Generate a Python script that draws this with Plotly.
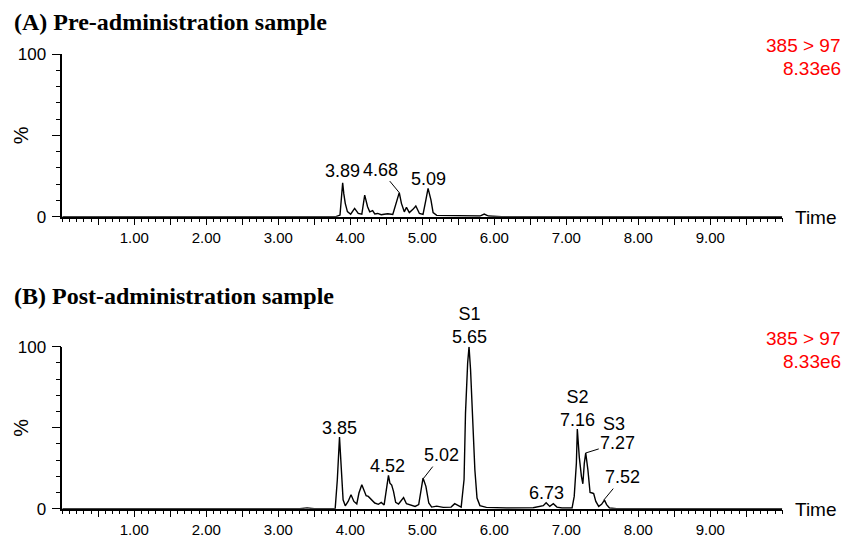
import plotly.graph_objects as go

# ---------------- data ----------------
# Panel A: pre-administration chromatogram (time, min ; relative intensity, %)
time_a = [0.00, 3.80, 3.857, 3.875, 3.894, 3.91, 3.93, 3.96, 4.005, 4.06, 4.11, 4.16, 4.20, 4.24,
          4.27, 4.31, 4.34, 4.38, 4.43, 4.47, 4.52, 4.59, 4.64, 4.68, 4.71, 4.75, 4.78, 4.82,
          4.87, 4.91, 4.96, 5.01, 5.05, 5.08, 5.12, 5.15, 5.20, 5.50, 5.80, 5.86, 5.92, 6.10, 10.0]
int_a = [0.0, 0.0, 1.0, 12.0, 20.9, 14.0, 8.2, 3.1, 1.5, 5.1, 2.0, 1.5, 13.3, 6.1,
         3.0, 3.7, 1.7, 2.0, 1.2, 1.5, 1.8, 1.4, 8.2, 14.8, 8.2, 3.0, 5.7, 2.5,
         4.5, 6.6, 2.0, 1.4, 10.3, 17.4, 10.3, 2.5, 0.8, 0.5, 0.4, 1.6, 0.4, 0.0, 0.0]

# Panel B: post-administration chromatogram
time_b = [0.00, 3.30, 3.40, 3.50, 3.79, 3.82, 3.85, 3.88, 3.90, 3.93, 3.97, 4.01, 4.05, 4.09,
          4.12, 4.16, 4.19, 4.22, 4.25, 4.30, 4.34, 4.39, 4.43, 4.47, 4.49, 4.53, 4.55, 4.575,
          4.60, 4.63, 4.67, 4.74, 4.78, 4.84, 4.90, 4.95, 4.98, 5.01, 5.05, 5.09, 5.13, 5.20,
          5.29, 5.40, 5.45, 5.50, 5.54, 5.58, 5.60, 5.63, 5.649, 5.67, 5.70, 5.73, 5.76, 5.80,
          5.89, 6.17, 6.54, 6.68, 6.72, 6.77, 6.82, 6.87, 6.94, 7.08, 7.11, 7.14, 7.153, 7.18,
          7.21, 7.23, 7.25, 7.27, 7.30, 7.33, 7.36, 7.38, 7.41, 7.45, 7.49, 7.53, 7.56, 7.60,
          7.70, 10.0]
int_b = [0.0, 0.0, 0.5, 0.0, 0.0, 18.0, 44.2, 22.0, 5.5, 1.8, 4.5, 8.6, 4.5, 3.0,
         9.7, 14.8, 11.7, 8.0, 7.6, 5.5, 3.5, 2.7, 3.9, 2.3, 7.6, 20.6, 15.8, 14.6,
         10.7, 3.9, 2.9, 6.8, 3.1, 2.0, 1.4, 2.5, 9.7, 18.9, 13.8, 3.5, 1.0, 1.6,
         0.8, 1.0, 3.1, 1.8, 1.0, 18.0, 59.0, 90.0, 100.0, 86.0, 57.0, 24.0, 6.6, 1.9,
         0.8, 0.4, 0.6, 1.9, 3.7, 1.4, 3.1, 1.0, 0.4, 0.4, 7.6, 28.0, 49.2, 32.0,
         20.0, 15.4, 28.0, 34.4, 24.0, 10.0, 9.7, 9.3, 4.5, 1.4, 2.7, 5.3, 2.5, 0.4,
         0.0, 0.0]

# x-axis tick labels (labelled every minute)
x_tick_labels = ["1.00", "2.00", "3.00", "4.00", "5.00", "6.00", "7.00", "8.00", "9.00"]
y_tick_labels = ["0", "", "100"]

# peak labels: (time, apex intensity, text)
labels_a = [(3.89, 20.9, "3.89"), (4.68, 14.8, "4.68"), (5.09, 17.4, "5.09")]
labels_b = [(3.85, 44.2, "3.85"), (4.52, 20.6, "4.52"), (5.02, 18.9, "5.02"),
            (5.65, 100.0, "S1<br>5.65"), (6.73, 3.7, "6.73"), (7.16, 49.2, "S2<br>7.16"),
            (7.27, 34.4, "7.27"), (7.52, 5.3, "7.52")]

titles = ["(A) Pre-administration sample", "(B) Post-administration sample"]
transition = "385 > 97"
max_intensity = "8.33e6"

# ---------------- layout geometry ----------------
W, H = 845, 538
x_left, x_right = 62.3, 782.3
panels = [  # (y pixel of 0%, y pixel of 100%)
    (216.7, 54.0),
    (508.7, 346.7),
]

def py(p):
    return 1 - p / H

fig = go.Figure()
fig.add_trace(go.Scatter(x=time_a, y=int_a, mode="lines", line=dict(color="black", width=1.4),
                         xaxis="x", yaxis="y", showlegend=False, hoverinfo="skip"))
fig.add_trace(go.Scatter(x=time_b, y=int_b, mode="lines", line=dict(color="black", width=1.4),
                         xaxis="x2", yaxis="y2", showlegend=False, hoverinfo="skip"))

major_x = [i * 0.5 for i in range(1, 20)]
major_x_text = [x_tick_labels[int(v) - 1] if float(v).is_integer() else "" for v in major_x]

font_sans = "Liberation Sans, Arial, sans-serif"

def xaxis_cfg(anchor):
    return dict(domain=[x_left / W, x_right / W], range=[0, 10], anchor=anchor, automargin=False,
                showline=True, linecolor="black", linewidth=1.5, showgrid=False, zeroline=False,
                ticks="outside", ticklen=7, tickwidth=1.3, tickcolor="black",
                tickmode="array", tickvals=major_x, ticktext=major_x_text,
                tickfont=dict(family=font_sans, size=15, color="black"),
                ticklabelstandoff=0,
                minor=dict(dtick=0.1, tick0=0, ticks="outside", ticklen=4, tickwidth=1.1,
                           tickcolor="black", showgrid=False),
                fixedrange=True)

def yaxis_cfg(anchor, p0, p100):
    return dict(domain=[py(p0), py(p100)], range=[0, 100], anchor=anchor, automargin=False,
                showline=True, linecolor="black", linewidth=1.5, showgrid=False, zeroline=False,
                ticks="outside", ticklen=9, tickwidth=1.3, tickcolor="black",
                tickmode="array", tickvals=[0, 50, 100], ticktext=y_tick_labels,
                tickfont=dict(family=font_sans, size=17, color="black"),
                ticklabelstandoff=2,
                minor=dict(dtick=10, tick0=0, ticks="outside", ticklen=5, tickwidth=1.1,
                           tickcolor="black", showgrid=False),
                fixedrange=True)

fig.update_layout(
    template="none",
    width=W, height=H, margin=dict(l=0, r=0, t=0, b=0, pad=0), autosize=False,
    paper_bgcolor="white", plot_bgcolor="white", showlegend=False,
    xaxis=xaxis_cfg("y"), yaxis=yaxis_cfg("x", *panels[0]),
    xaxis2=xaxis_cfg("y2"), yaxis2=yaxis_cfg("x2", *panels[1]),
)

ann = []
label_font = dict(family=font_sans, size=18, color="black")

# offsets (pixels) of label centre from the peak apex; (dx, dy, arrow?)
label_offsets = {
    "3.89": (0, -12, False), "4.68": (-19, -23, True), "5.09": (0, -9.5, False),
    "3.85": (0, -9.5, False), "4.52": (0, -9.5, False), "5.02": (18, -23, True),
    "S1<br>5.65": (0, -21, False), "6.73": (0, -9.5, False), "S2<br>7.16": (0, -21, False),
    "7.27": (32, -10, True), "7.52": (19, -23, True),
}

for (labs, xr, yr) in [(labels_a, "x", "y"), (labels_b, "x2", "y2")]:
    for t, v, txt in labs:
        dx, dy, arrow = label_offsets[txt]
        if arrow:
            ann.append(dict(x=t, y=v, xref=xr, yref=yr, text=txt, showarrow=True,
                            ax=dx, ay=dy, arrowhead=0, arrowwidth=1, arrowcolor="black",
                            standoff=0, font=label_font))
        else:
            ann.append(dict(x=t, y=v, xref=xr, yref=yr, text=txt, showarrow=False,
                            xanchor="center", yanchor="middle", xshift=dx, yshift=-dy,
                            font=label_font))

# S3 marker text above the 7.27 label
ann.append(dict(x=7.27, y=34.4, xref="x2", yref="y2", text="S3", showarrow=False,
                xanchor="center", yanchor="middle", xshift=28, yshift=29, font=label_font))

for i, (p0, p100) in enumerate(panels):
    title_y = [22, 296][i]
    ann.append(dict(x=12 / W, y=py(title_y), xref="paper", yref="paper", text="<b>%s</b>" % titles[i],
                    showarrow=False, xanchor="left", yanchor="middle",
                    font=dict(family="Liberation Serif, Times New Roman, serif", size=24, color="black")))
    ann.append(dict(x=793 / W, y=py(p0 + 1), xref="paper", yref="paper", text="Time",
                    showarrow=False, xanchor="left", yanchor="middle",
                    font=dict(family=font_sans, size=19, color="black")))
    ann.append(dict(x=843 / W, y=py(p100 - 8), xref="paper", yref="paper", text=transition,
                    showarrow=False, xanchor="right", yanchor="middle",
                    font=dict(family=font_sans, size=19, color="#ff0000")))
    ann.append(dict(x=843 / W, y=py(p100 + 14.5), xref="paper", yref="paper", text=max_intensity,
                    showarrow=False, xanchor="right", yanchor="middle",
                    font=dict(family=font_sans, size=19, color="#ff0000")))
    ann.append(dict(x=21 / W, y=py((p0 + p100) / 2), xref="paper", yref="paper", text="%",
                    showarrow=False, xanchor="center", yanchor="middle", textangle=-90,
                    font=dict(family=font_sans, size=20, color="black")))

fig.update_layout(annotations=ann)
fig.write_html("out.html")
